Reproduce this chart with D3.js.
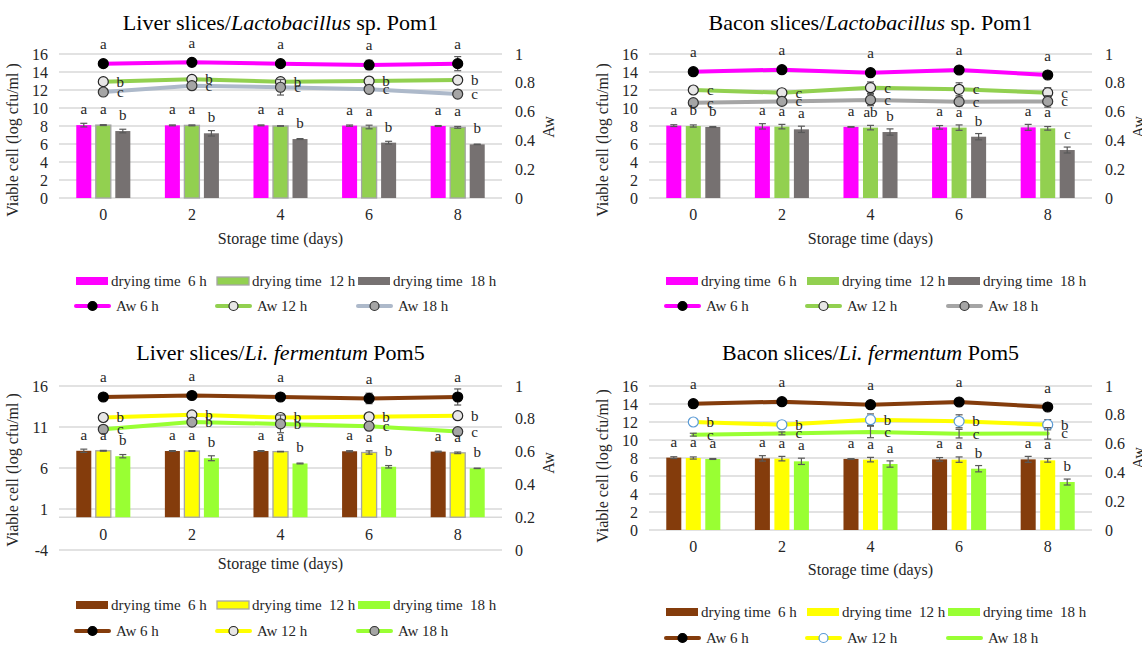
<!DOCTYPE html>
<html>
<head>
<meta charset="utf-8">
<script src="https://cdn.jsdelivr.net/npm/d3@7"></script>
<style>
  body { margin: 0; background: #fff; }
  svg { display: block; }
  text { font-family: "Liberation Serif", "Times New Roman", serif; fill: #262626; }
</style>
</head>
<body>
<svg id="fig" width="1142" height="648"></svg>
<script>
// ---- data ----------------------------------------------------------------
const days = ["0", "2", "4", "6", "8"];
const barNames = ["drying time  6 h", "drying time  12 h", "drying time  18 h"];
const awNames = ["Aw 6 h", "Aw 12 h", "Aw 18 h"];

const cellTicks16 = [0, 2, 4, 6, 8, 10, 12, 14, 16];
const cellTicks20 = [-4, 1, 6, 11, 16];
const awTicks = [0, 0.2, 0.4, 0.6, 0.8, 1];

// Liver slices: viable cell counts (log cfu/ml) per drying time
const liverCell6h  = [8.10, 8.07, 8.07, 8.04, 8.00];
const liverCell12h = [8.10, 8.07, 8.00, 7.89, 7.85];
const liverCell18h = [7.44, 7.19, 6.55, 6.15, 5.96];
const liverCellErr6h  = [0.20, 0.05, 0.05, 0.07, 0.05];
const liverCellErr12h = [0.05, 0.05, 0.03, 0.20, 0.10];
const liverCellErr18h = [0.20, 0.30, 0.05, 0.15, 0.03];
// Liver slices: water activity
const liverAw6h  = [0.933, 0.942, 0.933, 0.924, 0.933];
const liverAw12h = [0.808, 0.824, 0.808, 0.812, 0.819];
const liverAw18h = [0.736, 0.780, 0.769, 0.755, 0.722];
const liverAwErr6h  = [0.005, 0.005, 0.015, 0.032, 0.049];
const liverAwErr12h = [0.005, 0.010, 0.015, 0.005, 0.005];
const liverAwErr18h = [0.010, 0.010, 0.054, 0.010, 0.005];

// Bacon slices: viable cell counts (log cfu/ml)
const baconCell6h  = [8.04, 7.96, 7.90, 7.85, 7.85];
const baconCell12h = [8.00, 7.93, 7.82, 7.82, 7.74];
const baconCell18h = [7.89, 7.63, 7.33, 6.81, 5.33];
const baconCellErr6h  = [0.10, 0.30, 0.03, 0.20, 0.33];
const baconCellErr12h = [0.12, 0.25, 0.25, 0.30, 0.20];
const baconCellErr18h = [0.05, 0.35, 0.35, 0.35, 0.33];
// Bacon slices: water activity
const baconAw6h  = [0.877, 0.891, 0.870, 0.889, 0.854];
const baconAw12h = [0.750, 0.731, 0.766, 0.755, 0.731];
const baconAw18h = [0.662, 0.671, 0.681, 0.669, 0.671];
const baconAwErr6h  = [0.005, 0.005, 0.005, 0.005, 0.005];
const baconAwErr12h = [0.010, 0.015, 0.040, 0.045, 0.035];
const baconAwErr18h = [0.010, 0.010, 0.040, 0.030, 0.040];

// significance letters
const lettersLiverPom1Bars = [["a","a","a","a","a"], ["a","a","a","a","a"], ["b","b","b","b","b"]];
const lettersLiverPom1Aw   = [["a","a","a","a","a"], ["b","b","b","b","b"], ["c","c","c","c","c"]];
const lettersBaconPom1Bars = [["a","a","a","a","a"], ["b","a","ab","a","a"], ["b","a","b","b","c"]];
const lettersBaconPom1Aw   = [["a","a","a","a","a"], ["c","c","c","c","c"], ["c","c","c","c","c"]];
const lettersLiverPom5Bars = [["a","a","a","a","a"], ["a","a","a","a","a"], ["b","b","b","b","b"]];
const lettersLiverPom5Aw   = [["a","a","a","a","a"], ["b","b","b","b","b"], ["c","b","b","c","c"]];
const lettersBaconPom5Bars = [["a","a","a","a","a"], ["a","a","a","a","a"], ["a","a","a","b","b"]];
const lettersBaconPom5Aw   = [["a","a","a","a","a"], ["b","b","b","b","b"], ["c","c","c","c","c"]];

// ---- panel definitions ----------------------------------------------------
const pom1Bars = ["#ff00ff", "#92d050", "#767171"];
const pom5Bars = ["#843c0c", "#ffff00", "#99ff33"];

const panels = [
  {
    title: ["Liver slices/", "Lactobacillus", " sp. Pom1"],
    dx: 0, top: 54, bottom: 198, awBottom: 198, domain: [0, 16], ticks: cellTicks16,
    xTitleY: 238, yTitleY: 140, awTitleY: 127, titleY: 30,
    cells: [liverCell6h, liverCell12h, liverCell18h],
    cellErr: [liverCellErr6h, liverCellErr12h, liverCellErr18h],
    aw: [liverAw6h, liverAw12h, liverAw18h],
    awErr: [liverAwErr6h, liverAwErr12h, liverAwErr18h],
    barLetters: lettersLiverPom1Bars, awLetters: lettersLiverPom1Aw,
    barFill: pom1Bars, barStroke: [null, "#a5a5a5", null],
    lineColor: ["#ff00ff", "#92d050", "#adb9ca"],
    marker: [{fill: "#000", stroke: "#000"}, {fill: "#e7e6e6", stroke: "#262626"}, {fill: "#a5a5a5", stroke: "#333"}],
    legendY: [281, 306]
  },
  {
    title: ["Bacon slices/", "Lactobacillus", " sp. Pom1"],
    dx: 590, top: 54, bottom: 198, awBottom: 198, domain: [0, 16], ticks: cellTicks16,
    xTitleY: 238, yTitleY: 140, awTitleY: 127, titleY: 30,
    cells: [baconCell6h, baconCell12h, baconCell18h],
    cellErr: [baconCellErr6h, baconCellErr12h, baconCellErr18h],
    aw: [baconAw6h, baconAw12h, baconAw18h],
    awErr: [baconAwErr6h, baconAwErr12h, baconAwErr18h],
    barLetters: lettersBaconPom1Bars, awLetters: lettersBaconPom1Aw,
    barFill: pom1Bars, barStroke: [null, null, null],
    lineColor: ["#ff00ff", "#92d050", "#a5a5a5"],
    marker: [{fill: "#000", stroke: "#000"}, {fill: "#e7e6e6", stroke: "#262626"}, {fill: "#a5a5a5", stroke: "#333"}],
    legendY: [281, 306]
  },
  {
    title: ["Liver slices/", "Li. fermentum", " Pom5"],
    dx: 0, top: 386, bottom: 550, awBottom: 550, domain: [-4, 16], ticks: cellTicks20,
    xTitleY: 563, yTitleY: 470, awTitleY: 463, titleY: 360,
    cells: [liverCell6h, liverCell12h, liverCell18h],
    cellErr: [liverCellErr6h, liverCellErr12h, liverCellErr18h],
    aw: [liverAw6h, liverAw12h, liverAw18h],
    awErr: [liverAwErr6h, liverAwErr12h, liverAwErr18h],
    barLetters: lettersLiverPom5Bars, awLetters: lettersLiverPom5Aw,
    barFill: pom5Bars, barStroke: [null, "#a5a5a5", null],
    lineColor: ["#843c0c", "#ffff00", "#99ff33"],
    marker: [{fill: "#000", stroke: "#000"}, {fill: "#e7e6e6", stroke: "#262626"}, {fill: "#a5a5a5", stroke: "#333"}],
    legendY: [605, 631]
  },
  {
    title: ["Bacon slices/", "Li. fermentum", " Pom5"],
    dx: 590, top: 386, bottom: 530, awBottom: 530, domain: [0, 16], ticks: cellTicks16,
    xTitleY: 569, yTitleY: 466, awTitleY: 458, titleY: 360,
    cells: [baconCell6h, baconCell12h, baconCell18h],
    cellErr: [baconCellErr6h, baconCellErr12h, baconCellErr18h],
    aw: [baconAw6h, baconAw12h, baconAw18h],
    awErr: [baconAwErr6h, baconAwErr12h, baconAwErr18h],
    barLetters: lettersBaconPom5Bars, awLetters: lettersBaconPom5Aw,
    barFill: pom5Bars, barStroke: [null, null, null],
    lineColor: ["#843c0c", "#ffff00", "#99ff33"],
    marker: [{fill: "#000", stroke: "#000"}, {fill: "#fff", stroke: "#5b9bd5"}, null],
    legendY: [612, 638]
  }
];

// ---- drawing ----------------------------------------------------------------
const svg = d3.select("#fig");
svg.append("rect").attr("width", 1142).attr("height", 648).attr("fill", "#fff");

const ERR = "#595959";

function errorBar(g, cx, yLo, yHi) {
  g.append("line").attr("x1", cx).attr("x2", cx).attr("y1", yLo).attr("y2", yHi)
    .attr("stroke", ERR).attr("stroke-width", 1.2);
  [yLo, yHi].forEach(y => g.append("line").attr("x1", cx - 3.5).attr("x2", cx + 3.5)
    .attr("y1", y).attr("y2", y).attr("stroke", ERR).attr("stroke-width", 1.2));
}

panels.forEach(p => {
  const g = svg.append("g");
  const left = 59 + p.dx, right = 502 + p.dx;

  const x0 = d3.scaleBand().domain(days).range([left, right])
    .paddingInner(0.39).paddingOuter(0.195);
  const x1 = d3.scaleBand().domain([0, 1, 2]).range([0, x0.bandwidth()])
    .paddingInner(0.23).paddingOuter(0);
  const yL = d3.scaleLinear().domain(p.domain).range([p.bottom, p.top]);
  const yR = d3.scaleLinear().domain([0, 1]).range([p.awBottom, p.top]);
  const cx = d => x0(d) + x0.bandwidth() / 2;

  // gridlines (plus the category axis line when the scale goes below zero)
  const gridVals = p.ticks.slice();
  if (p.domain[0] < 0) gridVals.push(0);
  g.append("g").selectAll("line").data(gridVals).join("line")
    .attr("x1", left).attr("x2", right)
    .attr("y1", d => yL(d)).attr("y2", d => yL(d))
    .attr("stroke", "#d9d9d9").attr("stroke-width", 1.4);

  // axes (labels only); plain hyphen for negative ticks
  const axL = g.append("g").attr("transform", `translate(${left},0)`)
    .call(d3.axisLeft(yL).tickValues(p.ticks).tickSize(0).tickPadding(11).tickFormat(d => String(d)));
  const axR = g.append("g").attr("transform", `translate(${right},0)`)
    .call(d3.axisRight(yR).tickValues(awTicks).tickSize(0).tickPadding(13).tickFormat(d3.format("~g")));
  const axB = g.append("g").attr("transform", `translate(0,${yL(0)})`)
    .call(d3.axisBottom(x0).tickSize(0).tickPadding(11));
  [axL, axR, axB].forEach(a => {
    a.select(".domain").remove();
    a.selectAll("text").attr("font-size", 16).attr("font-family", null).style("fill", "#262626");
  });

  // axis titles
  g.append("text").attr("x", (left + right) / 2).attr("y", p.xTitleY + 5.5)
    .attr("text-anchor", "middle").attr("font-size", 16).text("Storage time (days)");
  g.append("text").attr("transform", `translate(${left - 41},${p.yTitleY}) rotate(-90)`)
    .attr("text-anchor", "middle").attr("font-size", 16).text("Viable cell (log cfu/ml )");
  g.append("text").attr("transform", `translate(${right + 52},${p.awTitleY}) rotate(-90)`)
    .attr("text-anchor", "middle").attr("font-size", 16).text("Aw");

  // chart title
  const t = g.append("text").attr("x", (left + right) / 2).attr("y", p.titleY)
    .attr("text-anchor", "middle").attr("font-size", 22).style("fill", "#000");
  t.append("tspan").text(p.title[0]);
  t.append("tspan").attr("font-style", "italic").text(p.title[1]);
  t.append("tspan").text(p.title[2]);

  // bars
  p.cells.forEach((vals, s) => {
    g.append("g").selectAll("rect").data(vals).join("rect")
      .attr("x", (v, i) => x0(days[i]) + x1(s))
      .attr("width", x1.bandwidth())
      .attr("y", v => yL(v))
      .attr("height", v => yL(0) - yL(v))
      .attr("fill", p.barFill[s])
      .attr("stroke", p.barStroke[s] || "none")
      .attr("stroke-width", 1.3);
  });
  p.cells.forEach((vals, s) => {
    vals.forEach((v, i) => {
      const e = p.cellErr[s][i];
      errorBar(g, x0(days[i]) + x1(s) + x1.bandwidth() / 2, yL(v - e), yL(v + e));
    });
  });

  // water activity lines
  const line = d3.line().x((v, i) => cx(days[i])).y(v => yR(v));
  p.aw.forEach((vals, s) => {
    g.append("path").datum(vals).attr("d", line).attr("fill", "none")
      .attr("stroke", p.lineColor[s]).attr("stroke-width", 4)
      .attr("stroke-linejoin", "round").attr("stroke-linecap", "round");
    vals.forEach((v, i) => {
      const e = p.awErr[s][i];
      errorBar(g, cx(days[i]), yR(v - e), yR(v + e));
    });
    if (p.marker[s]) {
      g.append("g").selectAll("circle").data(vals).join("circle")
        .attr("cx", (v, i) => cx(days[i])).attr("cy", v => yR(v)).attr("r", 5)
        .attr("fill", p.marker[s].fill).attr("stroke", p.marker[s].stroke).attr("stroke-width", 1.2);
    }
  });

  // significance letters
  p.barLetters.forEach((ls, s) => {
    g.append("g").selectAll("text").data(ls).join("text")
      .attr("x", (d, i) => x0(days[i]) + x1(s) + x1.bandwidth() / 2)
      .attr("y", (d, i) => yL(p.cells[s][i]) - 15 + 4)
      .attr("text-anchor", "middle").attr("font-size", 15).text(d => d);
  });
  p.awLetters.forEach((ls, s) => {
    g.append("g").selectAll("text").data(ls).join("text")
      .attr("x", (d, i) => s === 0 ? cx(days[i]) : cx(days[i]) + 17)
      .attr("y", (d, i) => s === 0 ? yR(p.aw[s][i]) - 18.5 + 4 : yR(p.aw[s][i]) + 5)
      .attr("text-anchor", "middle").attr("font-size", 15).text(d => d);
  });

  // legend
  const lx = 76 + p.dx;
  const leg = g.append("g");
  barNames.forEach((name, s) => {
    const x = lx + s * 141;
    leg.append("rect").attr("x", x).attr("y", p.legendY[0] - 4).attr("width", 32).attr("height", 8)
      .attr("fill", p.barFill[s]).attr("stroke", p.barStroke[s] || "none").attr("stroke-width", 1.3);
    leg.append("text").attr("x", x + 35).attr("y", p.legendY[0] + 5).attr("font-size", 15)
      .style("white-space", "pre").text(name);
  });
  awNames.forEach((name, s) => {
    const x = lx + s * 141;
    leg.append("line").attr("x1", x).attr("x2", x + 33).attr("y1", p.legendY[1]).attr("y2", p.legendY[1])
      .attr("stroke", p.lineColor[s]).attr("stroke-width", 4).attr("stroke-linecap", "round");
    if (p.marker[s]) {
      leg.append("circle").attr("cx", x + 16.5).attr("cy", p.legendY[1]).attr("r", 4.5)
        .attr("fill", p.marker[s].fill).attr("stroke", p.marker[s].stroke).attr("stroke-width", 1.2);
    }
    leg.append("text").attr("x", x + 40).attr("y", p.legendY[1] + 5).attr("font-size", 15)
      .style("white-space", "pre").text(name);
  });
});
</script>
</body>
</html>
